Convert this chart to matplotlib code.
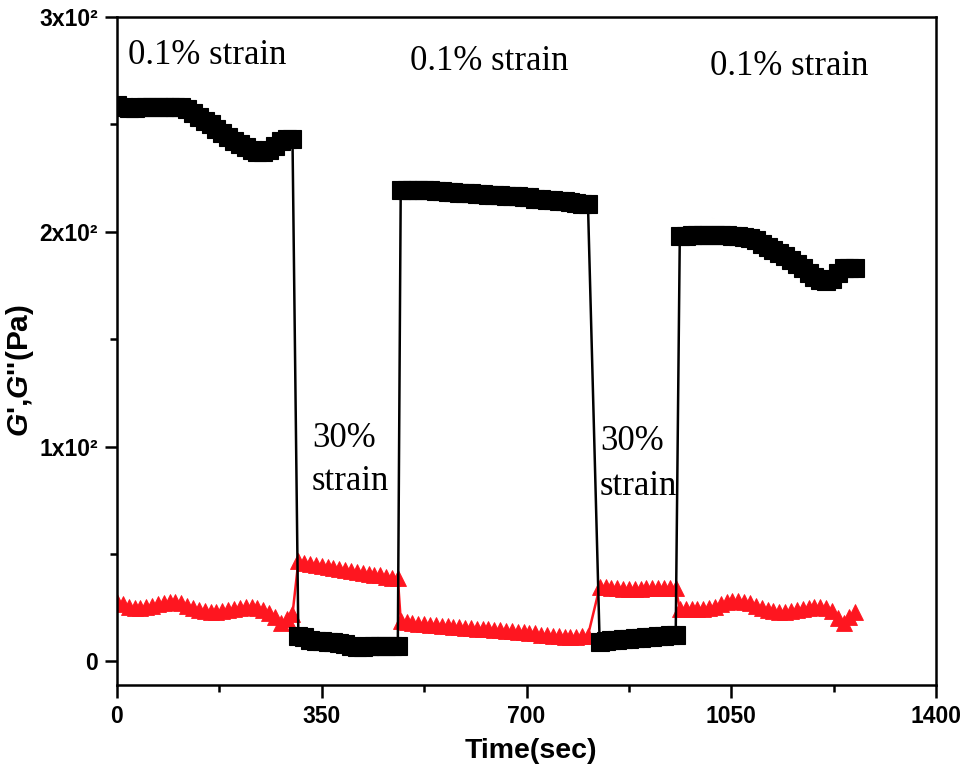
import matplotlib
matplotlib.use("Agg")
import matplotlib.pyplot as plt
from matplotlib.ticker import FixedLocator, FixedFormatter

plt.rcParams['font.family'] = ['Liberation Sans', 'DejaVu Sans']
plt.rcParams['font.weight'] = 'bold'
plt.rcParams['mathtext.fontset'] = 'custom'
plt.rcParams['mathtext.it'] = 'Liberation Sans:italic:bold'
plt.rcParams['mathtext.rm'] = 'Liberation Sans:bold'

# ---------------- data ----------------
time_s1 = [0, 10, 20, 30, 40, 50, 60, 70, 80, 90, 100, 110, 120, 130, 140, 150,
           160, 170, 180, 190, 200, 210, 220, 230, 240, 250, 260, 270, 280, 290, 300]
time_s2 = [310, 320, 330, 340, 350, 360, 370, 380, 390, 400, 410, 420, 430, 440,
           450, 460, 470, 480]
time_s3 = [485, 495, 505, 515, 525, 535, 545, 555, 565, 575, 585, 595, 605, 615,
           625, 635, 645, 655, 665, 675, 685, 695, 705, 715, 725, 735, 745, 755,
           765, 775, 785, 795, 805]
time_s4 = [825, 835, 845, 855, 865, 875, 885, 895, 905, 915, 925, 935, 945, 955]
time_s5 = [962, 972, 982, 992, 1002, 1012, 1022, 1032, 1042, 1052, 1062, 1072,
           1082, 1092, 1102, 1112, 1122, 1132, 1142, 1152, 1162, 1172, 1182, 1192,
           1202, 1212, 1222, 1232, 1242, 1252, 1262]

g1_s1 = [259, 258, 257.5, 257.5, 258, 258, 258, 258, 258, 258, 258, 258, 257, 255.5,
         253.5, 251.5, 250, 248, 246, 244, 242.5, 241, 239.5, 238, 237, 237, 238,
         240, 242.5, 243, 243]
g1_s2 = [12, 11.5, 10, 9.5, 9.5, 9, 9, 8.5, 8, 7, 6.5, 6.5, 7, 7, 7, 7, 7, 7]
g1_s3 = [219.5, 219.5, 219.5, 219.5, 219.5, 219.5, 219, 219, 218.5, 218.5, 218, 218,
         218, 217.5, 217.5, 217, 217, 217, 216.5, 216.5, 216.5, 216, 216, 215.5,
         215.5, 215, 215, 214.5, 214.5, 214, 213.5, 213, 213]
g1_s4 = [9, 9.5, 10, 10, 10.5, 10.5, 11, 11, 11.5, 11.5, 12, 12, 12.5, 12.5]
g1_s5 = [198, 198, 198.5, 198.5, 198.5, 198.5, 198.5, 198.5, 198.5, 198, 198, 197.5,
         197, 196, 194.5, 193, 191.5, 190, 188.5, 187, 185, 183, 181, 179, 177.5,
         177, 178, 181, 183, 183, 183]

g2_s1 = [27.5, 26.5, 25.5, 25, 25, 25.5, 26, 26.5, 27, 27.5, 27.5, 27, 26, 25, 24,
         23.5, 23, 23, 23.5, 24, 24.5, 25, 25.5, 25.5, 25, 24, 22.5, 20.5, 18, 19.5, 22]
g2_s2 = [46.5, 46, 45.5, 45, 44.5, 44, 43.5, 43, 42.5, 42, 41.5, 41, 40.5, 40, 40,
         39.5, 39, 39]
g2_s3 = [19, 18.5, 18, 17.5, 17.5, 17, 17, 16.5, 16.5, 16, 16, 15.5, 15.5, 15, 15,
         15, 14.5, 14.5, 14, 14, 13.5, 13.5, 13, 13, 12.5, 12.5, 12, 12, 11.5, 11.5,
         11.5, 12, 12]
g2_s4 = [34.5, 34.5, 34, 34, 33.5, 33.5, 33.5, 33.5, 34, 34, 34, 34, 34, 34]
g2_s5 = [24.5, 24.5, 24.5, 24.5, 24.5, 25, 25.5, 26.5, 27.5, 28, 28, 27.5, 27, 26,
         25, 24, 23.5, 23, 23, 23.5, 24, 24.5, 25, 25.5, 25.5, 25, 23.5, 20, 18,
         20.5, 23]

x_ticks = [0, 350, 700, 1050, 1400]
x_tick_labels = ["0", "350", "700", "1050", "1400"]
y_ticks = [0, 100, 200, 300]
y_tick_labels = ["0", "1x10\u00b2", "2x10\u00b2", "3x10\u00b2"]

annotations = [
    ("0.1% strain", 18.8, 278),
    ("0.1% strain", 501, 275.3),
    ("0.1% strain", 1013.7, 273),
    ("30%", 333, 99.7),
    ("strain", 333, 79.7),
    ("30%", 825.6, 98.3),
    ("strain", 825.6, 77.3),
]

time = time_s1 + time_s2 + time_s3 + time_s4 + time_s5
g_storage = g1_s1 + g1_s2 + g1_s3 + g1_s4 + g1_s5
g_loss = g2_s1 + g2_s2 + g2_s3 + g2_s4 + g2_s5

# ---------------- plot ----------------
fig = plt.figure(figsize=(9.66, 7.70), dpi=100)
ax = fig.add_axes([0.1211, 0.1104, 0.8479, 0.8675])

red = '#fe1620'
ax.plot(time, g_loss, color=red, lw=1.8, marker='^', markersize=11,
        markeredgewidth=0.6, markeredgecolor=red, zorder=2)
ax.plot(time, g_storage, color='black', lw=1.8, marker='s', markersize=12.8,
        markeredgewidth=0.8, markeredgecolor='black', zorder=3)

ax.set_xlim(0, 1400)
ax.set_ylim(-11, 300)

ax.xaxis.set_major_locator(FixedLocator(x_ticks))
ax.xaxis.set_major_formatter(FixedFormatter(x_tick_labels))
ax.xaxis.set_minor_locator(FixedLocator([175, 525, 875, 1225]))
ax.yaxis.set_major_locator(FixedLocator(y_ticks))
ax.yaxis.set_major_formatter(FixedFormatter(y_tick_labels))
ax.yaxis.set_minor_locator(FixedLocator([50, 150, 250]))

for sp in ax.spines.values():
    sp.set_linewidth(1.8)

ax.tick_params(axis='x', which='major', direction='out', length=9.4, width=1.8,
               pad=5, labelsize=16.5)
ax.tick_params(axis='x', which='minor', direction='out', length=5, width=1.8)
ax.tick_params(axis='y', which='major', direction='out', length=8.6, width=1.8,
               pad=5, labelsize=16.5)
ax.tick_params(axis='y', which='minor', direction='out', length=5, width=1.8)

ax.set_xlabel("Time(sec)", fontweight='bold', fontsize=20.5)
ax.xaxis.set_label_coords(0.505, -0.080)
ax.set_ylabel("$G$',$G$''(Pa)", fontweight='bold', fontsize=21.5)
ax.yaxis.set_label_coords(-0.099, 0.471)

for txt, x, y in annotations:
    ax.text(x, y, txt, fontfamily='Liberation Serif', fontweight='normal',
            fontsize=25, ha='left', va='baseline', zorder=5)

fig.savefig("out.png", dpi=100)
